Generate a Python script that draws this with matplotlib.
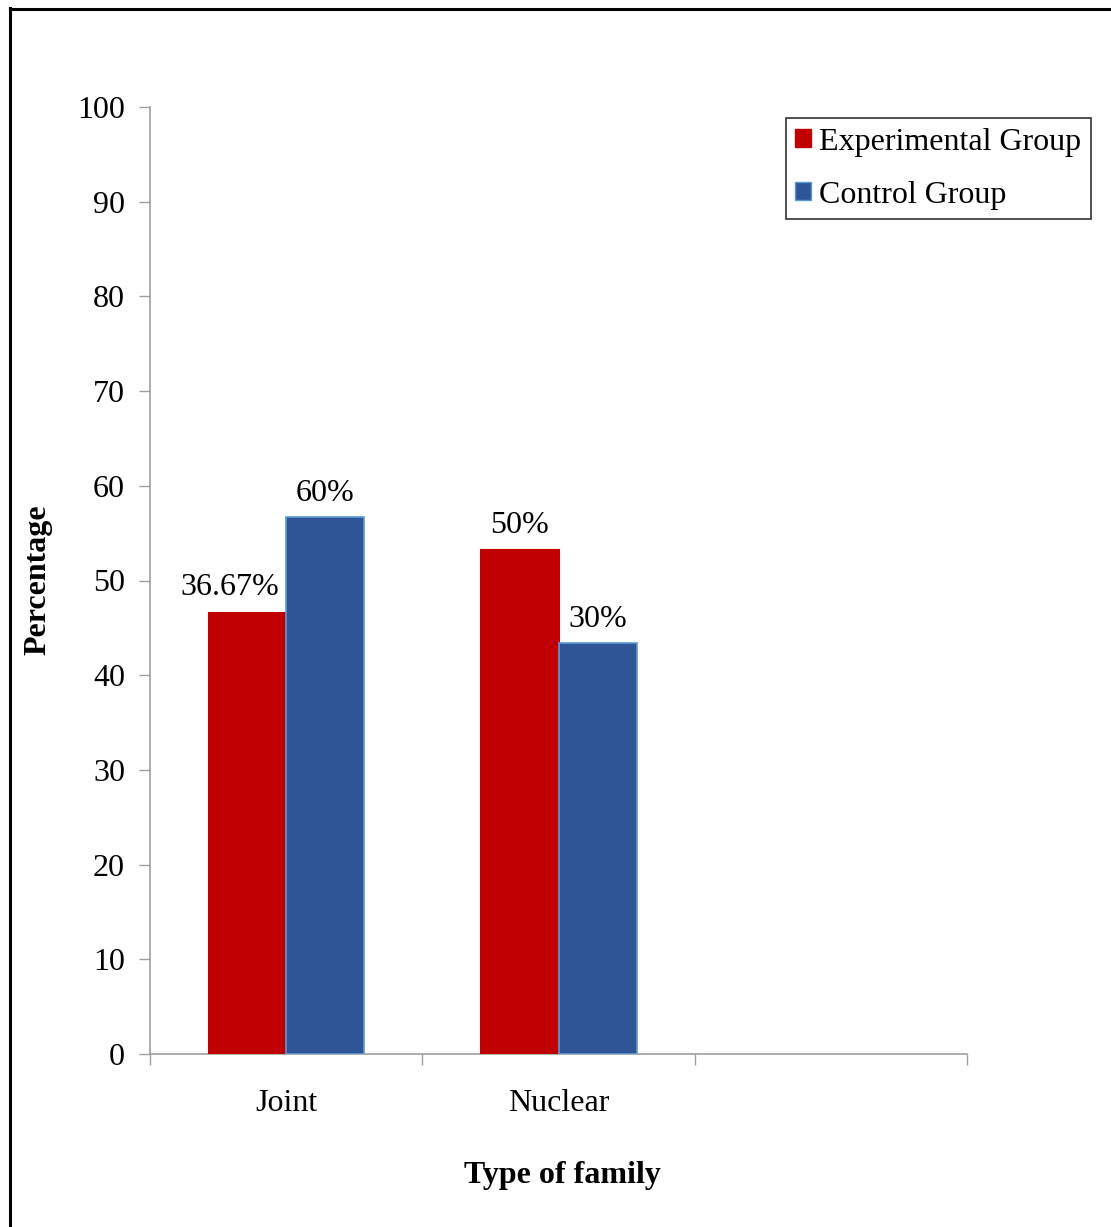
import matplotlib.pyplot as plt
import numpy as np
from matplotlib.patches import Patch
from matplotlib.lines import Line2D

plt.rcParams['font.family'] = ['Liberation Serif', 'DejaVu Serif']

categories = ['Joint', 'Nuclear']
experimental = [46.7, 53.3]
control = [56.7, 43.4]
exp_labels = ['36.67%', '50%']
ctrl_labels = ['60%', '30%']
series_names = ['Experimental Group', 'Control Group']
yticks = [0, 10, 20, 30, 40, 50, 60, 70, 80, 90, 100]

W, H = 1111, 1227
fs = 23
fig = plt.figure(figsize=(W / 100, H / 100), dpi=100)
ax = fig.add_axes([150 / W, 1 - 1054 / H, (967 - 150) / W, (1054 - 107) / H])

# outer frame (left and top only visible)
fig.add_artist(Line2D([9.5 / W, 9.5 / W], [0, 1 - 8 / H], color='black', lw=2.2, transform=fig.transFigure))
fig.add_artist(Line2D([9.5 / W, 1], [1 - 8.5 / H, 1 - 8.5 / H], color='black', lw=2.2, transform=fig.transFigure))

red = '#c00000'
blue = '#2f5597'
bw = 0.287
x = np.arange(len(categories)) + 0.5
ax.bar(x - bw / 2, experimental, bw, color=red, edgecolor=red, lw=0.8, zorder=3)
ax.bar(x + bw / 2, control, bw, color=blue, edgecolor='#5b9bd5', lw=1.2, zorder=3)

exp_shift = [-0.065, 0]
for xi, v, t, s in zip(x - bw / 2, experimental, exp_labels, exp_shift):
    ax.text(xi + s, v + 1.0, t, ha='center', va='bottom', fontsize=fs)
for xi, v, t in zip(x + bw / 2, control, ctrl_labels):
    ax.text(xi, v + 1.0, t, ha='center', va='bottom', fontsize=fs)

ax.set_xlim(0, 3)
ax.set_ylim(0, 100)
ax.set_yticks(yticks)
ax.set_yticklabels([str(v) for v in yticks], fontsize=fs)
ax.tick_params(axis='y', length=8, width=1, color='#a0a0a0', pad=10)

ax.set_xticks([0, 1, 2, 3])
ax.set_xticklabels([])
ax.set_xticks(x, minor=True)
ax.set_xticklabels(categories, minor=True, fontsize=fs)
ax.tick_params(axis='x', which='major', length=8, width=1, color='#a0a0a0')
ax.tick_params(axis='x', which='minor', length=0, pad=25)

for s in ['top', 'right']:
    ax.spines[s].set_visible(False)
for s in ['left', 'bottom']:
    ax.spines[s].set_color('#a0a0a0')
    ax.spines[s].set_linewidth(1.2)

fig.text(38 / W, 1 - 580 / H, 'Percentage', rotation=90, ha='center', va='center',
         fontsize=fs, fontweight='bold')
fig.text(562 / W, 1 - 1176 / H, 'Type of family', ha='center', va='center',
         fontsize=fs, fontweight='bold')

handles = [Patch(facecolor=red, edgecolor=red), Patch(facecolor=blue, edgecolor='#5b9bd5')]
leg = ax.legend(handles, series_names, loc='upper right',
                bbox_to_anchor=(1091 / W, 1 - 118 / H), bbox_transform=fig.transFigure,
                fontsize=fs, frameon=True, fancybox=False, edgecolor='black',
                handlelength=0.5, handleheight=0.5, handletextpad=0.25,
                labelspacing=0.75, borderpad=0.3, borderaxespad=0)
leg.get_frame().set_linewidth(1.2)

fig.savefig('out.png', dpi=100, facecolor='white')
